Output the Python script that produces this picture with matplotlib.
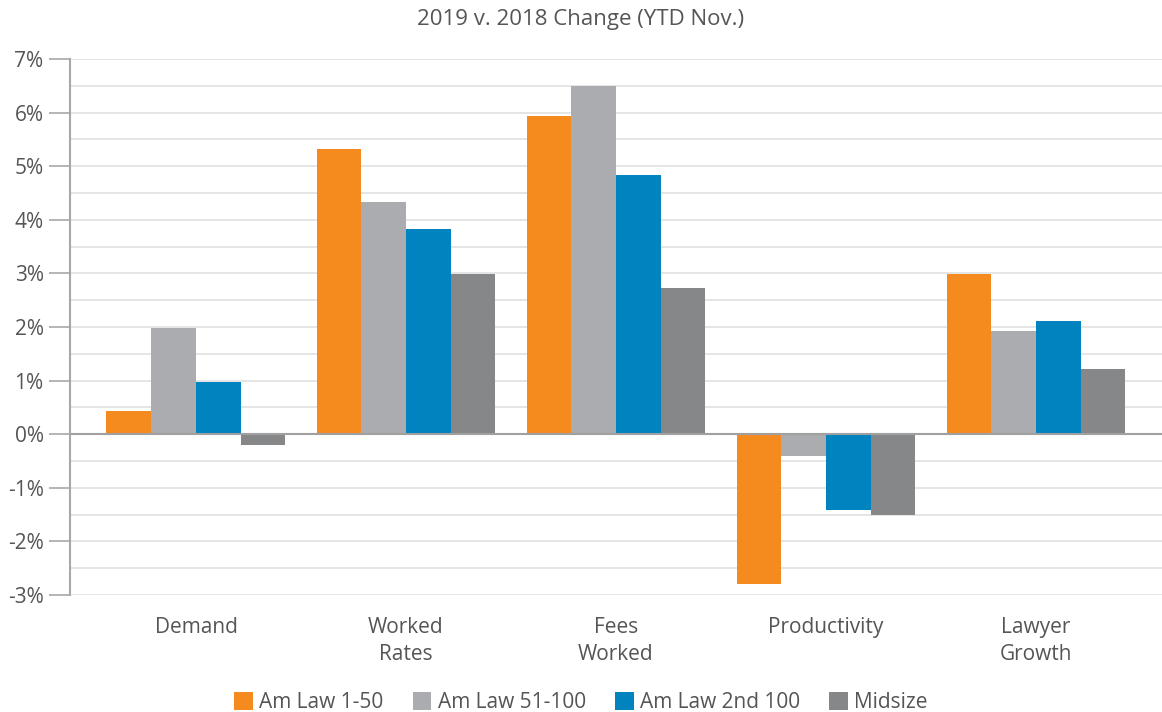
import numpy as np
import matplotlib.pyplot as plt
from matplotlib.ticker import MultipleLocator, FuncFormatter

plt.rcParams['font.family'] = ['Open Sans', 'DejaVu Sans']

categories = ["Demand", "Worked\nRates", "Fees\nWorked", "Productivity", "Lawyer\nGrowth"]
series = ["Am Law 1-50", "Am Law 51-100", "Am Law 2nd 100", "Midsize"]
amlaw_1_50 = [0.43, 5.32, 5.93, -2.80, 2.99]
amlaw_51_100 = [1.98, 4.33, 6.49, -0.41, 1.92]
amlaw_2nd_100 = [0.97, 3.83, 4.83, -1.42, 2.11]
midsize = [-0.20, 2.99, 2.72, -1.51, 1.21]
colors = ["#F58A1F", "#ABACB0", "#0083BF", "#868789"]

text_color = "#555555"

fig = plt.figure(figsize=(11.62, 7.12), dpi=100)
ax = fig.add_axes([0.0602, 0.1643, 0.9398, 0.7528])

x = np.arange(len(categories))
w = 0.213
values = [amlaw_1_50, amlaw_51_100, amlaw_2nd_100, midsize]
for i, (vals, name, col) in enumerate(zip(values, series, colors)):
    ax.bar(x + (i - 1.5) * w, vals, width=w, color=col, label=name, zorder=3)

ax.set_xlim(-0.6, 4.6)
ax.set_ylim(-3, 7)
ax.yaxis.set_major_locator(MultipleLocator(1))
ax.yaxis.set_minor_locator(MultipleLocator(0.5))
ax.yaxis.set_major_formatter(FuncFormatter(lambda v, p: f"{v:.0f}%"))
ax.grid(axis='y', which='both', color='#E0E0E0', linewidth=1.2, zorder=0)
ax.axhline(0, color='#A0A0A0', linewidth=1.5, zorder=4)

for s in ['top', 'right', 'bottom']:
    ax.spines[s].set_visible(False)
ax.spines['left'].set_color('#A8A8A8')
ax.spines['left'].set_linewidth(1.5)

ax.tick_params(axis='y', which='major', length=15, color='#A8A8A8', width=1.2,
               labelsize=15, labelcolor=text_color, pad=4)
ax.tick_params(axis='y', which='minor', length=0)
ax.set_xticks(x)
ax.set_xticklabels(categories, linespacing=1.35)
ax.tick_params(axis='x', length=0, labelsize=15, labelcolor=text_color, pad=16)

fig.suptitle("2019 v. 2018 Change (YTD Nov.)", y=0.988, fontsize=16, color=text_color)

leg = fig.legend(loc='lower center', bbox_to_anchor=(0.5, -0.028), ncol=4, frameon=False,
                 fontsize=15, handlelength=0.9, handleheight=0.9, handletextpad=0.3,
                 columnspacing=1.4)
for t in leg.get_texts():
    t.set_color(text_color)

fig.savefig("out.png", dpi=100)
